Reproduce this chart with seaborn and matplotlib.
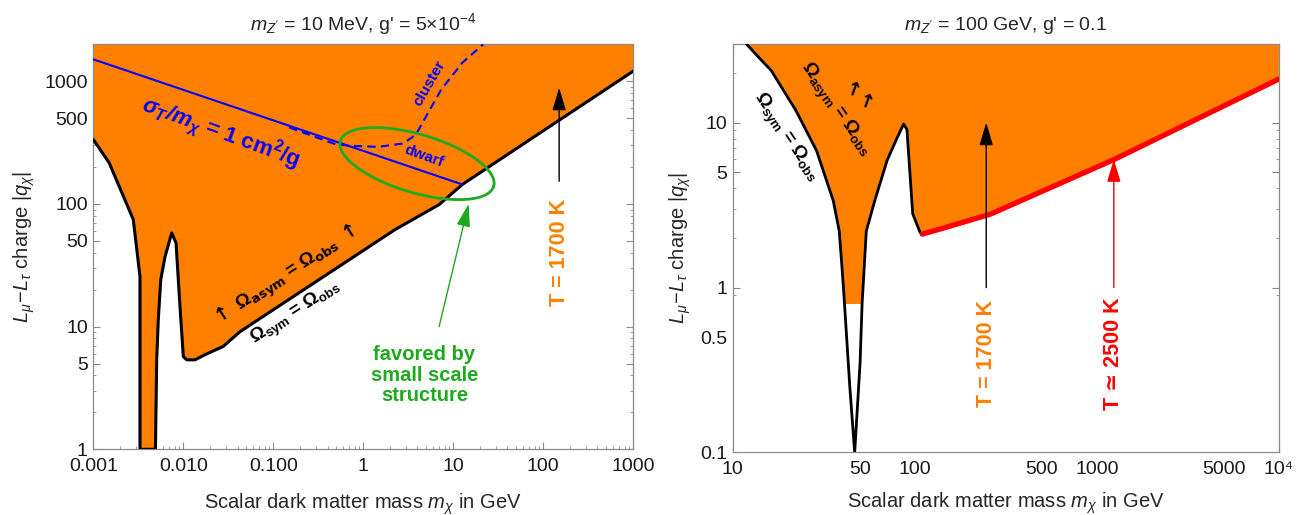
import numpy as np
import matplotlib
matplotlib.use("Agg")
import matplotlib.pyplot as plt
import matplotlib.ticker as mticker
import seaborn as sns

# Left panel: m_Z' = 10 MeV
sym_left_x = [0.001, 0.0015, 0.00278, 0.0033, 0.0033, 0.0033, 0.0049, 0.00506, 0.00527, 0.00561,
              0.00627, 0.00743, 0.0083, 0.00918, 0.0100, 0.0109, 0.0135, 0.0174, 0.0278, 0.0427,
              2.25, 6.95, 12.6, 1000]
sym_left_y = [335, 216, 74.5, 25.5, 12.9, 1.0, 1.0, 5.36, 11.4, 24.1,
              37.3, 58, 48, 14.6, 5.7, 5.36, 5.36, 5.9, 6.9, 9.1,
              61.7, 98.7, 144, 1210]
sigma_x = [0.001, 12.6]
sigma_y = [1508, 144]
cluster_x = [0.15, 0.5, 0.85, 1.47, 2.79, 3.85, 4.77, 7.35, 12.6, 21.5]
cluster_y = [420, 305, 296, 292, 311, 368, 488, 857, 1416, 2000]
left_xticks = [0.001, 0.01, 0.1, 1, 10, 100, 1000]
left_xlabels = ["0.001", "0.010", "0.100", "1", "10", "100", "1000"]
left_yticks = [1, 5, 10, 50, 100, 500, 1000]
left_ylabels = ["1", "5", "10", "50", "100", "500", "1000"]

# Right panel: m_Z' = 100 GeV
sym_right_x = [11.9, 13.9, 16.3, 22.3, 28.9, 35.7, 38.5, 39.6, 40.6, 44, 46.8, 50.1, 51.4, 54.2,
               60.3, 70.5, 80.3, 86.9, 90.6, 97.5, 107, 110]
sym_right_y = [30, 24.9, 20.7, 11.8, 6.76, 3.36, 2.2, 1.46, 1.0, 0.25, 0.1, 0.35, 0.8, 2.2,
               3.36, 5.9, 8.15, 9.8, 9.1, 2.8, 2.16, 2.11]
hot_x = [110, 139, 261, 1253, 10000]
hot_y = [2.11, 2.27, 2.79, 6.0, 18.4]
well_floor = 0.8
right_xticks = [10, 50, 100, 500, 1000, 5000, 10000]
right_xlabels = ["10", "50", "100", "500", "1000", "5000", "10⁴"]
right_yticks = [0.1, 0.5, 1, 5, 10]
right_ylabels = ["0.1", "0.5", "1", "5", "10"]

ORANGE = "#FF8000"
GREEN = "#1DAA1D"
BLUE = "#0000FF"
RED = "#FF0000"

sns.set_theme(style="ticks")
plt.rcParams["font.family"] = ["Liberation Sans", "DejaVu Sans"]
plt.rcParams["mathtext.fontset"] = "custom"
plt.rcParams["mathtext.rm"] = "Liberation Sans"
plt.rcParams["mathtext.it"] = "Liberation Sans:italic"
plt.rcParams["mathtext.bf"] = "Liberation Sans:bold"
plt.rcParams["mathtext.bfit"] = "Liberation Sans:bold:italic"

fig = plt.figure(figsize=(13.09, 5.15), dpi=100)
ax1 = fig.add_axes([0.0713, 0.1276, 0.4125, 0.7864])
ax2 = fig.add_axes([0.5597, 0.1214, 0.4173, 0.7932])

def style_axes(ax, xlim, ylim, xt, xl, yt, yl, xlab_y):
    ax.set_xscale("log")
    ax.set_yscale("log")
    ax.set_xlim(*xlim)
    ax.set_ylim(*ylim)
    ax.xaxis.set_major_locator(mticker.FixedLocator(xt))
    ax.xaxis.set_major_formatter(mticker.FixedFormatter(xl))
    ax.yaxis.set_major_locator(mticker.FixedLocator(yt))
    ax.yaxis.set_major_formatter(mticker.FixedFormatter(yl))
    ax.xaxis.set_minor_locator(mticker.LogLocator(subs=np.arange(2, 10), numticks=20))
    ax.yaxis.set_minor_locator(mticker.LogLocator(subs=np.arange(2, 10), numticks=20))
    ax.xaxis.set_minor_formatter(mticker.NullFormatter())
    ax.yaxis.set_minor_formatter(mticker.NullFormatter())
    ax.tick_params(which="both", direction="in", top=True, right=True,
                   color="#8a8a8a", labelsize=14, labelcolor="#1a1a1a")
    ax.tick_params(which="major", length=5, width=0.8)
    ax.tick_params(which="minor", length=2.5, width=0.6)
    ax.tick_params(axis="x", which="major", pad=6)
    ax.tick_params(axis="y", which="major", pad=4)
    for s in ax.spines.values():
        s.set_color("#8a8a8a")
        s.set_linewidth(0.9)
    ax.set_facecolor("white")
    ax.set_xlabel(r"Scalar dark matter mass $m_\chi$ in GeV", fontsize=14.5)
    ax.xaxis.set_label_coords(0.5, xlab_y)
    ax.set_ylabel(r"$L_\mu\!-\!L_\tau$ charge $|q_\chi|$", fontsize=14.5, labelpad=5)

ARROW = dict(arrowstyle="-|>,head_length=1.0,head_width=0.3", lw=1.0,
             shrinkA=0, shrinkB=0, mutation_scale=14)
UP = r"$\mathbf{\uparrow}$"

# ---------------- left panel ----------------
ax = ax1
style_axes(ax, (0.001, 1000), (1, 2000), left_xticks, left_xlabels, left_yticks, left_ylabels,
           -0.103)
ax.fill(sym_left_x + [1000, 0.001], sym_left_y + [1e4, 1e4], color=ORANGE, lw=0, zorder=1)
sns.lineplot(x=sym_left_x, y=sym_left_y, sort=False, estimator=None, color="black",
             lw=2.2, ax=ax, zorder=3)
sns.lineplot(x=sigma_x, y=sigma_y, sort=False, estimator=None, color=BLUE, lw=1.5, ax=ax, zorder=3)
sns.lineplot(x=cluster_x, y=cluster_y, sort=False, estimator=None, color=BLUE, lw=1.5,
             linestyle=(0, (4, 2.5)), ax=ax, zorder=3)

# green ellipse drawn in log space
ell_center = (3.95, 213)
ell_major = (0.852, -0.185)
ell_minor = (0.092, 0.228)
t = np.linspace(0, 2 * np.pi, 200)
eu = np.log10(ell_center[0]) + ell_major[0] * np.cos(t) + ell_minor[0] * np.sin(t)
ev = np.log10(ell_center[1]) + ell_major[1] * np.cos(t) + ell_minor[1] * np.sin(t)
ax.plot(10 ** eu, 10 ** ev, color=GREEN, lw=2.0, zorder=4)

ax.text(0.026, 380, r"$\mathbfit{\sigma_T/m_\chi}$ = 1 cm$^\mathbf{2}$/g", color=BLUE,
        fontsize=16, fontweight="bold", rotation=-20, ha="center", va="center", zorder=5)
ax.text(4.77, 245, "dwarf", color=BLUE, fontsize=11, fontweight="bold", rotation=-20,
        ha="center", va="center", zorder=5)
ax.text(5.5, 960, "cluster", color=BLUE, fontsize=11, fontweight="bold", rotation=60,
        ha="center", va="center", zorder=5)
ax.text(0.137, 25.6, UP + r" Ω$_{\mathbf{asym}}$ = Ω$_{\mathbf{obs}}$ " + UP, color="black",
        fontsize=13.5, fontweight="bold", rotation=33, ha="center", va="center", zorder=5,
        math_fontfamily="dejavusans")
ax.text(0.18, 12.9, r"Ω$_{\mathbf{sym}}$ = Ω$_{\mathbf{obs}}$", color="black", fontsize=13.5,
        fontweight="bold", rotation=33, ha="center", va="center", zorder=5)
ax.text(4.77, 4.0, "favored by\nsmall scale\nstructure", color=GREEN, fontsize=14.5,
        fontweight="bold", ha="center", va="center", linespacing=1.1, zorder=5)
ax.annotate("", xy=(14.8, 100), xytext=(6.95, 10), arrowprops=dict(ARROW, color=GREEN), zorder=5)
ax.annotate("", xy=(150, 885), xytext=(150, 153), arrowprops=dict(ARROW, color="black"), zorder=5)
ax.text(150, 40, "T = 1700 K", color=ORANGE, fontsize=15.5, fontweight="bold", rotation=90,
        ha="center", va="center", zorder=5)
ax.set_title(r"$m_{Z'}$ = 10 MeV, g' = 5×10$^{-4}$", fontsize=14, pad=10)

# ---------------- right panel ----------------
ax = ax2
style_axes(ax, (10, 10000), (0.1, 30), right_xticks, right_xlabels, right_yticks, right_ylabels,
           -0.094)
ax.fill(sym_right_x + hot_x + [10000, 11.9], sym_right_y + hot_y + [100, 100],
        color=ORANGE, lw=0, zorder=1)
ax.axhspan(0.05, well_floor, color="white", lw=0, zorder=1.5)
sns.lineplot(x=sym_right_x, y=sym_right_y, sort=False, estimator=None, color="black",
             lw=2.0, ax=ax, zorder=3)
sns.lineplot(x=hot_x, y=hot_y, sort=False, estimator=None, color=RED, lw=3.8, ax=ax, zorder=3)

ax.text(19.5, 8.15, r"Ω$_{\mathbf{sym}}$ = Ω$_{\mathbf{obs}}$", color="black", fontsize=13.5,
        fontweight="bold", rotation=-56, ha="center", va="center", zorder=5)
ax.text(36.7, 12.0, r"Ω$_{\mathbf{asym}}$ = Ω$_{\mathbf{obs}}$", color="black", fontsize=13.5,
        fontweight="bold", rotation=-55, ha="center", va="center", zorder=5)
for ux, uy in [(44.7, 16.0), (52.6, 13.5)]:
    ax.text(ux, uy, UP, color="black", fontsize=13.5, rotation=-20, ha="center", va="center",
            zorder=5, math_fontfamily="dejavusans")
ax.annotate("", xy=(247, 10), xytext=(247, 1), arrowprops=dict(ARROW, color="black"), zorder=5)
ax.annotate("", xy=(1240, 6.0), xytext=(1240, 1), arrowprops=dict(ARROW, color=RED), zorder=5)
ax.text(247, 0.40, "T = 1700 K", color=ORANGE, fontsize=15.5, fontweight="bold", rotation=90,
        ha="center", va="center", zorder=5)
ax.text(1240, 0.40, "T ≃ 2500 K", color=RED, fontsize=15.5, fontweight="bold", rotation=90,
        ha="center", va="center", zorder=5)
ax.set_title(r"$m_{Z'}$ = 100 GeV, g' = 0.1", fontsize=14, pad=10)

fig.savefig("out.png", dpi=100)
